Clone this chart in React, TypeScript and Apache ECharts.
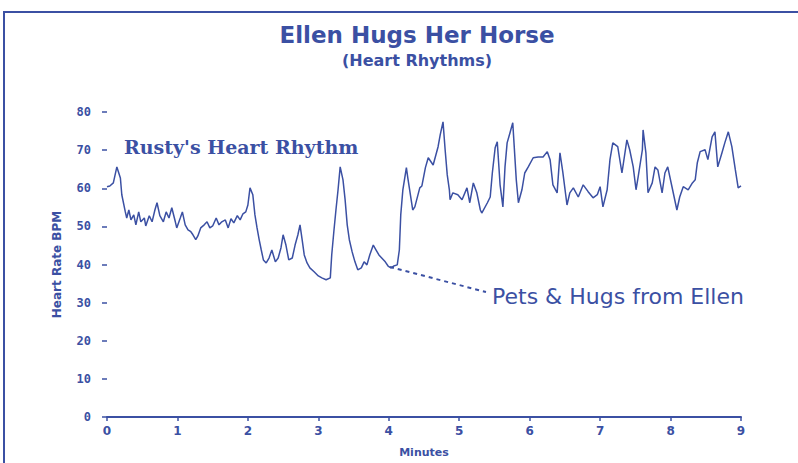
import React, { useEffect, useRef } from "react";
import * as echarts from "echarts";

const BLUE = "#3b50a3";

const minutes = [
  0, 0.04, 0.09, 0.14, 0.19, 0.21, 0.26, 0.28, 0.31, 0.34, 0.38, 0.41, 0.45, 0.48, 0.53, 0.55, 0.6, 0.64, 0.68, 0.71,
  0.75, 0.8, 0.84, 0.88, 0.92, 0.97, 0.99, 1.04, 1.07, 1.11, 1.15, 1.19, 1.22, 1.26, 1.29, 1.33, 1.38, 1.42, 1.46, 1.5,
  1.55, 1.59, 1.63, 1.68, 1.72, 1.76, 1.8, 1.85, 1.89, 1.93, 1.97, 2.0, 2.03, 2.07, 2.1, 2.13, 2.16, 2.19, 2.22, 2.26,
  2.3, 2.34, 2.39, 2.43, 2.47, 2.5, 2.54, 2.58, 2.63, 2.67, 2.71, 2.74, 2.77, 2.8, 2.84, 2.88, 2.94, 3.0, 3.05, 3.11,
  3.17, 3.19, 3.22, 3.25, 3.28, 3.31, 3.35, 3.38, 3.41, 3.44, 3.48, 3.52, 3.56, 3.61, 3.65, 3.69, 3.73, 3.78, 3.82, 3.86,
  3.9, 3.95, 3.99, 4.03, 4.07, 4.12, 4.15, 4.17, 4.2, 4.25, 4.27,
  4.34, 4.37, 4.44, 4.47, 4.52, 4.56, 4.63, 4.7, 4.73, 4.77, 4.8, 4.83, 4.86, 4.87, 4.91, 4.98, 5.04, 5.11, 5.15, 5.2,
  5.25, 5.3, 5.32, 5.4, 5.44, 5.47, 5.51, 5.54, 5.58, 5.62, 5.65, 5.68, 5.72, 5.76, 5.81, 5.84, 5.89, 5.93, 5.98, 6.05,
  6.12, 6.19, 6.25, 6.29, 6.33, 6.39, 6.43, 6.47, 6.53, 6.57, 6.62, 6.69, 6.76, 6.83, 6.9, 6.96, 7.0, 7.04, 7.1, 7.14,
  7.18, 7.25, 7.31, 7.38, 7.42, 7.47, 7.51, 7.54, 7.6, 7.61, 7.65, 7.68, 7.74, 7.78, 7.82, 7.88, 7.92, 7.96, 8.02, 8.09,
  8.13, 8.18, 8.25, 8.31, 8.35, 8.38, 8.42, 8.49, 8.53, 8.59, 8.63, 8.67, 8.73, 8.77, 8.82, 8.87, 8.92, 8.96, 9.0,
];

const bpm = [
  60.4, 60.6, 61.4, 65.6, 62.7, 58.3, 53.8, 52.2, 54.3, 51.7, 53.0, 50.4, 53.8, 51.2, 52.2, 50.1, 52.8, 51.2, 54.3, 56.2,
  52.8, 51.2, 53.8, 52.2, 54.9, 51.2, 49.6, 52.2, 53.8, 50.4, 49.1, 48.6, 47.8, 46.5, 47.5, 49.6, 50.4, 51.2, 49.6, 50.1,
  52.2, 50.4, 51.2, 51.7, 49.6, 52.0, 50.9, 52.8, 51.7, 53.3, 53.8, 55.6, 60.1, 58.3, 53.0, 49.6, 46.5, 43.8, 41.2, 40.4,
  41.7, 43.8, 40.7, 41.7, 44.4, 47.8, 45.1, 41.2, 41.7, 45.1, 47.8, 50.4, 46.5, 42.5, 40.4, 39.1, 38.1, 37.0, 36.5, 36.0,
  36.5, 42.5, 48.6, 54.3, 59.6, 65.6, 62.2, 57.0, 50.4, 46.5, 43.3, 40.7, 38.6, 39.1, 40.7, 39.9, 42.5, 45.1, 43.8, 42.5,
  41.7, 40.7, 39.6, 39.1, 39.6, 39.9, 43.8, 53.0, 59.6, 65.4, 62.7,
  54.3, 55.1, 60.1, 60.6, 65.4, 68.0, 66.1, 70.9, 74.0, 77.4, 70.1, 63.5, 59.6, 57.0, 58.8, 58.3, 57.0, 60.1, 56.2, 61.4,
  58.8, 54.3, 53.5, 56.2, 57.7, 64.0, 70.6, 72.2, 60.9, 55.1, 65.6, 71.9, 74.5, 77.2, 62.2, 56.2, 59.6, 64.0, 65.6, 68.0,
  68.2, 68.2, 69.6, 67.5, 60.9, 58.8, 69.3, 64.3, 55.6, 58.8, 60.1, 57.7, 60.9, 59.1, 57.5, 58.3, 60.4, 55.1, 59.6, 67.5,
  71.9, 70.9, 64.0, 72.7, 70.1, 65.6, 59.6, 63.0, 70.1, 75.3, 69.3, 58.8, 61.4, 65.6, 64.8, 58.8, 64.0, 65.6, 60.4, 54.3,
  57.7, 60.4, 59.6, 61.4, 62.2, 66.7, 69.6, 70.1, 67.5, 73.5, 74.8, 65.6, 69.3, 71.9, 74.8, 70.9, 64.8, 60.1, 60.6,
];

const titleText = "Ellen Hugs Her Horse";
const subtitleText = "(Heart Rhythms)";
const seriesLabel = "Rusty's Heart Rhythm";
const noteLabel = "Pets & Hugs from Ellen";
const xName = "Minutes";
const yName = "Heart Rate BPM";

export default function App() {
  const ref = useRef<HTMLDivElement>(null);
  useEffect(() => {
    if (!ref.current) return;
    const chart = echarts.init(ref.current, null, { renderer: "svg" });
    const data = minutes.map((t, i) => [t, bpm[i]]);
    chart.setOption({
      animation: false,
      backgroundColor: "#ffffff",
      grid: { left: 107, right: 57, top: 112, bottom: 46 },
      xAxis: {
        type: "value",
        min: 0,
        max: 9,
        interval: 1,
        name: xName,
        nameLocation: "middle",
        nameGap: 30,
        nameTextStyle: { color: BLUE, fontSize: 11, fontWeight: "bold", fontFamily: "DejaVu Sans" },
        axisLine: { show: true, lineStyle: { color: BLUE, width: 2 } },
        axisTick: { show: true, length: 4, lineStyle: { color: BLUE, width: 1.5 } },
        axisLabel: { color: BLUE, fontSize: 12, fontWeight: "bold", fontFamily: "DejaVu Sans", margin: 8 },
        splitLine: { show: false },
      },
      yAxis: {
        type: "value",
        min: 0,
        max: 80,
        interval: 10,
        name: yName,
        nameLocation: "middle",
        nameGap: 44,
        nameTextStyle: { color: BLUE, fontSize: 12, fontWeight: "bold", fontFamily: "DejaVu Sans" },
        axisLine: { show: false },
        axisTick: { show: true, length: 5, lineStyle: { color: BLUE, width: 1.5 } },
        axisLabel: { color: BLUE, fontSize: 12, fontWeight: "bold", fontFamily: "DejaVu Sans Mono", margin: 16 },
        splitLine: { show: false },
      },
      series: [
        {
          type: "line",
          data,
          showSymbol: false,
          symbol: "none",
          lineStyle: { color: BLUE, width: 1.5 },
        },
      ],
      graphic: [
        {
          type: "rect",
          shape: { x: 4, y: 12, width: 820, height: 480 },
          style: { fill: "none", stroke: BLUE, lineWidth: 2 },
          silent: true,
        },
        {
          type: "text",
          x: 417,
          y: 35,
          style: {
            text: titleText,
            fill: BLUE,
            font: "bold 23px 'DejaVu Sans'",
            textAlign: "center",
            textVerticalAlign: "middle",
          },
        },
        {
          type: "text",
          x: 417,
          y: 60,
          style: {
            text: subtitleText,
            fill: BLUE,
            font: "bold 16px 'DejaVu Sans'",
            textAlign: "center",
            textVerticalAlign: "middle",
          },
        },
        {
          type: "text",
          x: 124,
          y: 147,
          style: {
            text: seriesLabel,
            fill: BLUE,
            font: "bold 19px 'DejaVu Serif'",
            textAlign: "left",
            textVerticalAlign: "middle",
          },
        },
        {
          type: "text",
          x: 492,
          y: 296,
          style: {
            text: noteLabel,
            fill: BLUE,
            font: "22px 'DejaVu Sans'",
            textAlign: "left",
            textVerticalAlign: "middle",
          },
        },
        {
          type: "line",
          shape: { x1: 390, y1: 267, x2: 486, y2: 292 },
          style: { stroke: BLUE, lineWidth: 2, lineDash: [4, 4] },
        },
      ],
    });
    return () => chart.dispose();
  }, []);
  return (
    <div
      ref={ref}
      style={{ position: "fixed", left: 0, top: 0, width: 798, height: 463 }}
    />
  );
}
